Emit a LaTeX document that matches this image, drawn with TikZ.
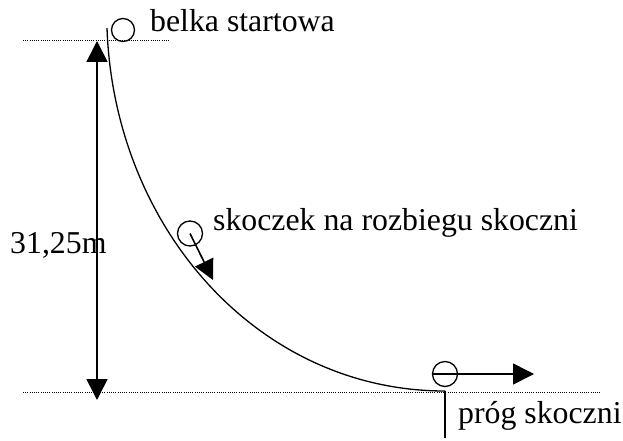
\documentclass[tikz,border=0pt]{standalone}
\usepackage{fontspec}
\setmainfont{Liberation Serif}
\usetikzlibrary{arrows.meta}
\begin{document}
\begin{tikzpicture}[x=1pt,y=-1pt,
  lbl/.style={anchor=base west,inner sep=0pt,font=\fontsize{31.8}{36}\selectfont},
  ball/.style={circle,draw,line width=1.3pt,inner sep=0pt,minimum size=#1},
  dotline/.style={line width=1pt,dash pattern=on 1pt off 1.2pt},
  arr/.style={line width=1.6pt,-{Triangle[length=#1,width=#1]}},
  arr/.default=21pt,
  darr/.style={line width=1.6pt,{Triangle[length=21pt,width=21pt]}-{Triangle[length=21pt,width=21pt]}}]
\useasboundingbox (0,0) rectangle (623,441);
% reference lines
\coordinate (t1) at (23,41); \coordinate (t2) at (169,41);
\coordinate (b1) at (23,392); \coordinate (b2) at (600,392);
\draw[dotline] (t1) -- (t2);
\draw[dotline] (b1) -- (b2);
% slope
\coordinate (s0) at (107,28);
\coordinate (s1) at (445,391);
\coordinate (s2) at (445,438);
\draw[line width=1.3pt] (s0) .. controls (114,228) and (258,391) .. (s1);
\draw[line width=1.4pt] (s1) -- (s2);
% height arrow
\coordinate (h1) at (97,400); \coordinate (h2) at (97,41);
\draw[darr] (h1) -- (h2);
\node[lbl] (hl) at (10,253) {31,25m};
% balls
\node[ball=23pt] (c1) at (123,30) {};
\node[ball=25pt] (c2) at (190,233.5) {};
\node[ball=25pt] (c3) at (445,374) {};
\coordinate (a2) at (213,280);
\coordinate (a3) at (534,374);
\draw[arr=20pt] (c2.center) -- (a2);
\draw[arr] (c3.west) -- (a3);
% labels
\node[lbl] (l1) at (150,32) {belka startowa};
\node[lbl] (l2) at (213,230) {skoczek na rozbiegu skoczni};
\node[lbl] (l3) at (458,423) {próg skoczni};
\end{tikzpicture}
\end{document}
